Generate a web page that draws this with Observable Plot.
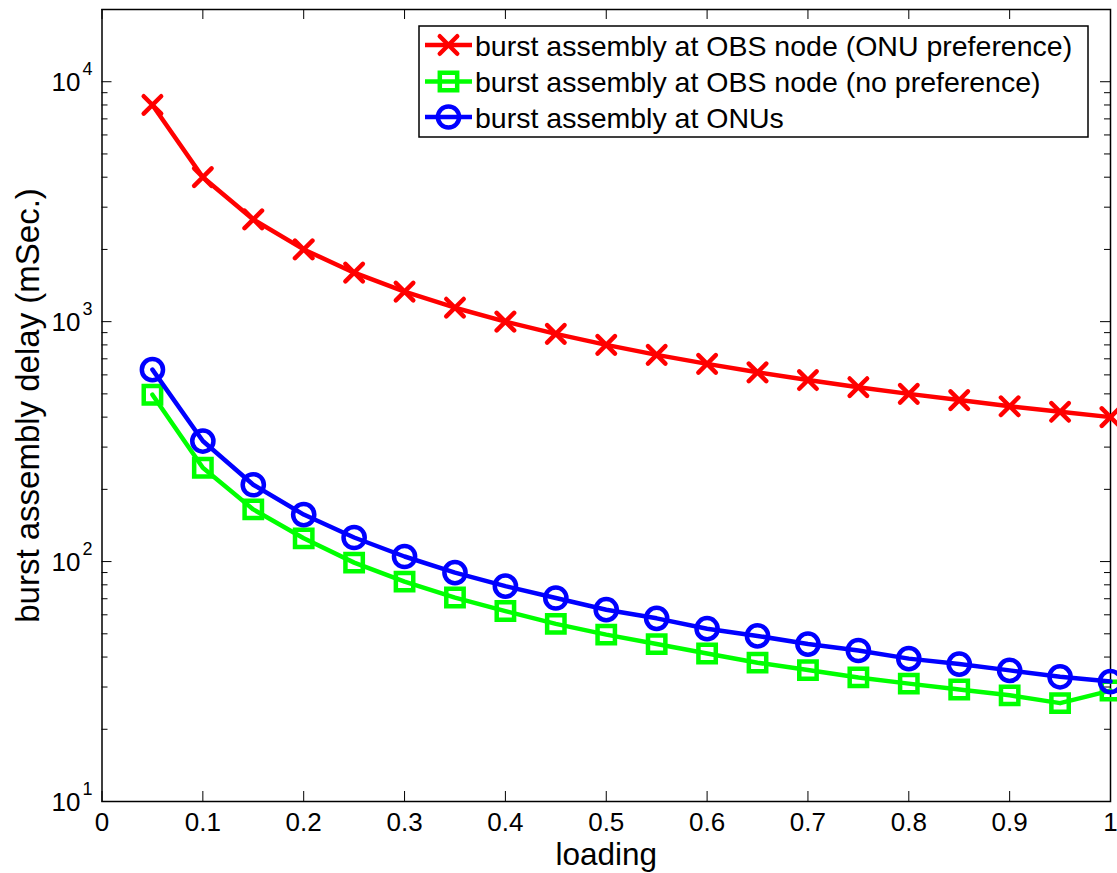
<!DOCTYPE html>
<html><head><meta charset="utf-8">
<script src="https://cdn.jsdelivr.net/npm/d3@7"></script>
<script src="https://cdn.jsdelivr.net/npm/@observablehq/plot@0.6"></script>
<style>
body{margin:0;background:#fff;}
#wrap{position:relative;width:1117px;height:873px;}
#legend{position:absolute;left:0;top:0;pointer-events:none;}
</style></head><body><div id="wrap"></div>
<script>
// ---- data ----
const loading = [0.05,0.1,0.15,0.2,0.25,0.3,0.35,0.4,0.45,0.5,0.55,0.6,0.65,0.7,0.75,0.8,0.85,0.9,0.95,1.0];
const obsOnuPref = [8000,4000,2667,2000,1600,1333,1143,1000,889,800,727,667,615,571,533,500,471,444,421,400];
const obsNoPref  = [496,246,165,125,99,82.5,70.8,62.2,55,49.6,45.3,41.4,37.9,35.3,32.9,31.0,29.3,27.7,25.7,29.0];
const atOnus     = [631,318,209,157,126,105,90,79,70.5,63,58,52.5,49,45.3,42.6,39.4,37.4,35.2,33.1,31.6];
const seriesNames = ["burst assembly at OBS node (ONU preference)","burst assembly at OBS node (no preference)","burst assembly at ONUs"];
const seriesColors = ["#ff0000","#00ff00","#0000ff"];
const seriesSymbols = ["times","square","circle"];
const seriesR = [8,9.8,10.6];
const xTicks = [0,0.1,0.2,0.3,0.4,0.5,0.6,0.7,0.8,0.9,1];
const xTickLabels = ["0","0.1","0.2","0.3","0.4","0.5","0.6","0.7","0.8","0.9","1"];
const yMajor = [10,100,1000,10000];
const yExponents = ["1","2","3","4"];
const xLabel = "loading";
const yLabel = "burst assembly delay (mSec.)";

const seriesValues = [obsOnuPref, obsNoPref, atOnus];
const yMinor = [];
for (const dec of yMajor) for (let m = 2; m <= 9; m++) if (dec*m <= 20000) yMinor.push(dec*m);

const W = 1117, H = 873, mL = 101.5, mR = 7, mT = 9, mB = 72;
const pW = W - mL - mR, pH = H - mT - mB;
const font = '"Liberation Sans", Arial, Helvetica, sans-serif';

const seriesMarks = seriesValues.flatMap((vals, i) => {
  const rows = loading.map((x, j) => ({x, y: vals[j], s: seriesNames[i]}));
  return [
    Plot.line(rows, {x: "x", y: "y", stroke: seriesColors[i], strokeWidth: 4.5, strokeLinejoin: "round"}),
    Plot.dot(rows, {x: "x", y: "y", symbol: seriesSymbols[i], r: seriesR[i], stroke: seriesColors[i], strokeWidth: 4.5, fill: "none", strokeLinecap: "round"})
  ];
});

const chart = Plot.plot({
  width: W, height: H,
  marginLeft: mL, marginRight: mR, marginTop: mT, marginBottom: mB,
  style: {fontFamily: font, background: "white", color: "black"},
  x: {domain: [0, 1], axis: null},
  y: {type: "log", domain: [10, 20000], axis: null},
  marks: [
    // ticks (inward, all four sides)
    Plot.tickX(xTicks, {x: d => d, insetTop: pH - 10, stroke: "black", strokeWidth: 1}),
    Plot.tickX(xTicks, {x: d => d, insetBottom: pH - 10, stroke: "black", strokeWidth: 1}),
    Plot.tickY(yMajor, {y: d => d, insetRight: pW - 10, stroke: "black", strokeWidth: 1}),
    Plot.tickY(yMajor, {y: d => d, insetLeft: pW - 10, stroke: "black", strokeWidth: 1}),
    Plot.tickY(yMinor, {y: d => d, insetRight: pW - 6, stroke: "black", strokeWidth: 1}),
    Plot.tickY(yMinor, {y: d => d, insetLeft: pW - 6, stroke: "black", strokeWidth: 1}),
    Plot.frame({stroke: "black", strokeWidth: 1.5}),
    // tick labels
    Plot.text(xTicks, {x: d => d, frameAnchor: "bottom", lineAnchor: "top", dy: 11, fontSize: 26, text: (d, i) => xTickLabels[i]}),
    Plot.text(yMajor, {y: d => d, frameAnchor: "left", textAnchor: "end", lineAnchor: "middle", dx: -21.5, dy: 1, fontSize: 26, text: () => "10"}),
    Plot.text(yMajor, {y: d => d, frameAnchor: "left", textAnchor: "start", lineAnchor: "middle", dx: -19.5, dy: -12, fontSize: 18, text: (d, i) => yExponents[i]}),
    // axis titles
    Plot.text([xLabel], {frameAnchor: "bottom", textAnchor: "middle", text: d => d, dy: 53, fontSize: 31.5, lineAnchor: "middle"}),
    Plot.text([yLabel], {frameAnchor: "left", textAnchor: "middle", text: d => d, rotate: -90, dx: -73.5, fontSize: 33, lineAnchor: "middle"}),
    ...seriesMarks
  ]
});
document.getElementById("wrap").appendChild(chart);

// ---- legend overlay (inside the axes, top right) ----
const leg = d3.select("#wrap").append("svg").attr("id", "legend").attr("width", W).attr("height", H);
leg.append("rect").attr("x", 419).attr("y", 26).attr("width", 669).attr("height", 111)
  .attr("fill", "white").attr("stroke", "black").attr("stroke-width", 1.5);
const rowY = [45, 81.5, 117];
const symMap = {times: d3.symbolTimes, square: d3.symbolSquare, circle: d3.symbolCircle};
seriesNames.forEach((name, i) => {
  const g = leg.append("g");
  g.append("line").attr("x1", 425).attr("x2", 472).attr("y1", rowY[i]).attr("y2", rowY[i])
    .attr("stroke", seriesColors[i]).attr("stroke-width", 4.5);
  g.append("path").attr("transform", `translate(448.5,${rowY[i]})`)
    .attr("d", d3.symbol().type(symMap[seriesSymbols[i]]).size(Math.PI * seriesR[i] * seriesR[i])())
    .attr("fill", "none").attr("stroke", seriesColors[i]).attr("stroke-width", 4.5).attr("stroke-linecap", "round");
  g.append("text").attr("x", 475).attr("y", rowY[i] + 10.5).attr("font-family", font).attr("font-size", 28.5)
    .attr("fill", "black").text(name);
});
</script></body></html>
